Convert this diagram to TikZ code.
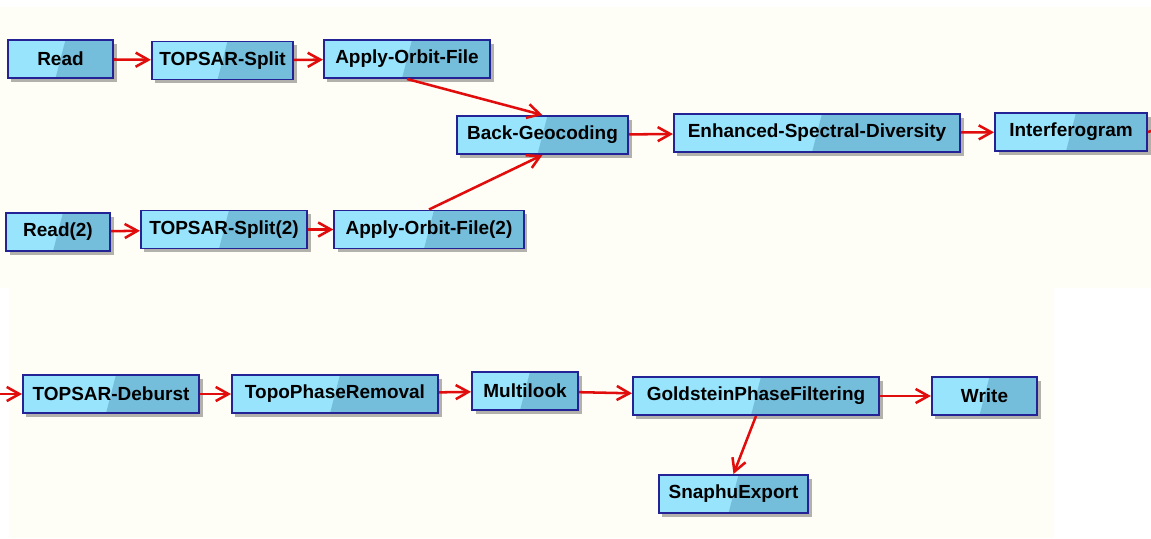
\documentclass[tikz,border=0pt]{standalone}
\usepackage{fontspec}
\setmainfont{Liberation Sans}
\usetikzlibrary{arrows.meta,shadows}

\definecolor{panelcream}{RGB}{255,254,246}
\definecolor{boxlight}{RGB}{152,228,252}
\definecolor{boxdark}{RGB}{116,190,220}
\definecolor{boxedge}{RGB}{35,35,150}
\definecolor{flowred}{RGB}{225,12,12}

\begin{document}
\begin{tikzpicture}[
    x=0.025cm, y=-0.025cm,
    font=\fontsize{13.5}{16}\selectfont\bfseries,
    opbox/.style={draw=boxedge, line width=1.4pt, fill=boxlight,
        minimum height=0.95cm, inner sep=2pt,
        drop shadow={shadow xshift=2.5pt, shadow yshift=-2.5pt, fill=black, opacity=0.3},
        path picture={\fill[boxdark] ([xshift=-3.5pt]path picture bounding box.south)
            -- ([xshift=3.5pt]path picture bounding box.north)
            -- (path picture bounding box.north east)
            -- (path picture bounding box.south east) -- cycle;}},
    flow/.style={draw=flowred, line width=1.8pt, -{Straight Barb[length=9pt, width=10pt]}},
]

% Canvas and the two graph panels
\useasboundingbox (0,0) rectangle (1151,539);
\fill[white] (0,0) rectangle (1151,539);
\fill[panelcream] (0,7) rectangle (1151,288);
\fill[panelcream] (9,288) rectangle (1054,538);

% Upper graph: master branch
\node[opbox, minimum width=2.63cm] (read) at (60.5,59) {Read};
\node[opbox, minimum width=3.53cm] (split) at (222.5,60.5) {TOPSAR-Split};
\node[opbox, minimum width=4.15cm] (orbit) at (407,59) {Apply-Orbit-File};

% Upper graph: slave branch
\node[opbox, minimum width=2.6cm] (readB) at (58,232) {Read(2)};
\node[opbox, minimum width=4.15cm] (splitB) at (224,229.5) {TOPSAR-Split(2)};
\node[opbox, minimum width=4.73cm] (orbitB) at (429,229.5) {Apply-Orbit-File(2)};

% Upper graph: joined chain
\node[opbox, minimum width=4.28cm] (geocod) at (542.5,135) {Back-Geocoding};
\node[opbox, minimum width=7.15cm] (esd) at (817,133) {Enhanced-Spectral-Diversity};
\node[opbox, minimum width=3.8cm] (ifg) at (1071,132) {Interferogram};
\coordinate (ifgOut) at (1151,131);

% Lower graph
\coordinate (debIn) at (0,394);
\node[opbox, minimum width=4.4cm] (deburst) at (111,394) {TOPSAR-Deburst};
\node[opbox, minimum width=5.15cm] (topo) at (335,394) {TopoPhaseRemoval};
\node[opbox, minimum width=2.65cm] (mlook) at (525,391) {Multilook};
\node[opbox, minimum width=6.15cm] (gold) at (756,396) {GoldsteinPhaseFiltering};
\node[opbox, minimum width=2.63cm] (write) at (984.5,396) {Write};
\node[opbox, minimum width=3.73cm] (snaphu) at (733.5,494) {SnaphuExport};

% Connectors
\draw[flow] (read) -- (split);
\draw[flow] (split) -- (orbit);
\draw[flow] (readB) -- (splitB);
\draw[flow] (splitB) -- (orbitB);
\draw[flow] (orbit.south) -- (geocod.north);
\draw[flow] (orbitB.north) -- (geocod.south);
\draw[flow] (geocod) -- (esd);
\draw[flow] (esd) -- (ifg);
\draw[flow, -] (ifg.east) -- (ifgOut);

\draw[flow] (debIn) -- (deburst.west);
\draw[flow] (deburst) -- (topo);
\draw[flow] (topo) -- (mlook);
\draw[flow] (mlook) -- (gold);
\draw[flow] (gold) -- (write);
\draw[flow] (gold.south) -- (snaphu.north);

\end{tikzpicture}
\end{document}
